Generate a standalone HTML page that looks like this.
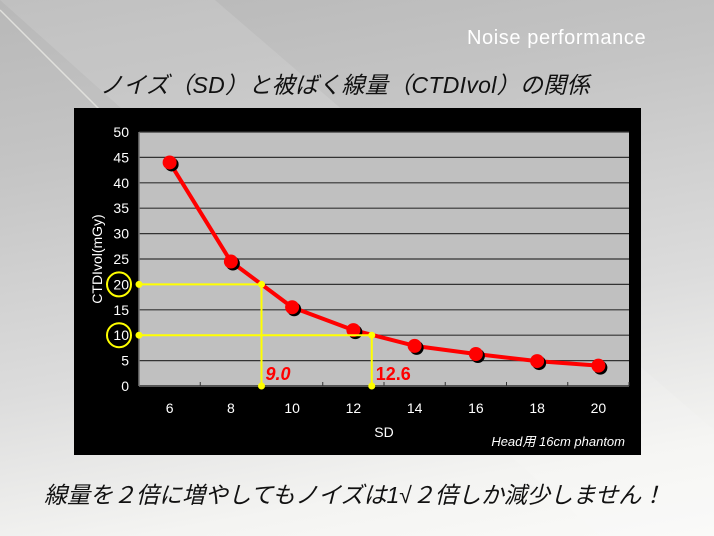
<!DOCTYPE html>
<html><head><meta charset="utf-8"><style>
html,body{margin:0;padding:0}
body{width:714px;height:536px;overflow:hidden;position:relative;font-family:"Liberation Sans","Noto Sans CJK JP",sans-serif;
background:linear-gradient(170deg,#b8b8b8 0%,#c4c4c4 25%,#dcdcdc 60%,#f4f4f2 85%,#fafaf8 100%);}
.t{position:absolute;white-space:nowrap}
</style></head><body>
<svg width="714" height="536" style="position:absolute;left:0;top:0">
<polygon points="0,0 215,0 714,430 714,536 600,536" fill="#ffffff" opacity="0.12"/>
<line x1="0" y1="10" x2="140" y2="150" stroke="#e0e0dc" stroke-width="1.5"/>
</svg>
<div class="t" style="left:467px;top:27px;font-size:20px;letter-spacing:0.6px;color:#fff;">Noise performance</div>
<div class="t" style="left:100px;top:66px;font-size:23px;letter-spacing:0.3px;font-style:italic;color:#111;">ノイズ（SD）と被ばく線量（CTDIvol）の関係</div>
<svg id="chart" width="714" height="536" style="position:absolute;left:0;top:0"></svg>
<div class="t" style="left:44px;top:476px;font-size:23px;font-style:italic;color:#111;">線量を２倍に増やしてもノイズは1√２倍しか減少しません！</div>
<script>
const categories=[6,8,10,12,14,16,18,20];
const ctdi=[44,24.5,15.5,11,7.9,6.3,4.9,4.0];
const yTicks=[0,5,10,15,20,25,30,35,40,45,50];
const refLevels=[20,10];
const refSD=[9.0,12.6];
const refLabels=["9.0","12.6"];
const NS="http://www.w3.org/2000/svg";
const svg=document.getElementById('chart');
const L=139,R=629,T=132,B=386;
const x=v=>L+(v-5)*(R-L)/16;
const y=v=>B-v*(B-T)/50;
function mk(tag,at,parent){const e=document.createElementNS(NS,tag);for(const k in at)e.setAttribute(k,at[k]);(parent||svg).appendChild(e);return e;}
let e;
e=mk('rect',{x:74,y:108,width:567,height:347,fill:'#000'});


e=mk('rect',{x:L,y:T,width:R-L,height:B-T,fill:'#c0c0c0'});


yTicks.forEach(v=>{
 if(v>0){e=mk('line',{x1:L,x2:R,y1:y(v),y2:y(v),stroke:'#333','stroke-width':1.2});
 
 }
 e=mk('text',{x:129,y:y(v)+5,'text-anchor':'end','font-size':14,fill:'#fff'});
 e.textContent=v;
 
 
});
e=mk('line',{x1:L,x2:R,y1:B,y2:B,stroke:'#555','stroke-width':2});


e=mk('line',{x1:L,x2:L,y1:T,y2:B,stroke:'#777','stroke-width':1.5});


categories.forEach(c=>{
 e=mk('line',{x1:x(c+1),x2:x(c+1),y1:B-4,y2:B,stroke:'#333'});
 
 
 e=mk('text',{x:x(c),y:413,'text-anchor':'middle','font-size':14,fill:'#fff'});
 e.textContent=c;
 
 
});
e=mk('text',{x:384,y:437,'text-anchor':'middle','font-size':14,fill:'#fff'});
e.textContent='SD';


e=mk('text',{x:0,y:0,'text-anchor':'middle','font-size':14,fill:'#fff',transform:'translate(102,259) rotate(-90)'});
e.textContent='CTDIvol(mGy)';


e=mk('text',{x:625,y:446,'text-anchor':'end','font-size':13,'font-style':'italic',fill:'#fff'});
e.textContent='Head用 16cm phantom';


const pts=categories.map((c,i)=>x(c)+','+y(ctdi[i])).join(' ');
e=mk('polyline',{points:pts,fill:'none',stroke:'#ff0000','stroke-width':4,'stroke-linejoin':'round'});


categories.forEach((c,i)=>{
 e=mk('circle',{cx:x(c)+2,cy:y(ctdi[i])+2,r:7,fill:'#000'});
 
 
 e=mk('circle',{cx:x(c),cy:y(ctdi[i]),r:7,fill:'#ff0000'});
 
 
});
refLevels.forEach((lv,i)=>{
 const sx=x(refSD[i]);
 e=mk('polyline',{points:`${L},${y(lv)} ${sx},${y(lv)} ${sx},${B}`,fill:'none',stroke:'#ffff00','stroke-width':2});
 
 
 [[L,y(lv)],[sx,y(lv)],[sx,B]].forEach(p=>{
  e=mk('circle',{cx:p[0],cy:p[1],r:3.5,fill:'#ffff00'});
  
  
 });
 e=mk('circle',{cx:119,cy:y(lv),r:12,fill:'none',stroke:'#ffff00','stroke-width':2});
 
 
 e=mk('text',{x:sx+4,y:B-6,'font-size':18,'font-weight':'bold','font-style':i==0?'italic':'normal',fill:'#ff0000'});
 e.textContent=refLabels[i];
 
 
});
</script>
</body></html>
